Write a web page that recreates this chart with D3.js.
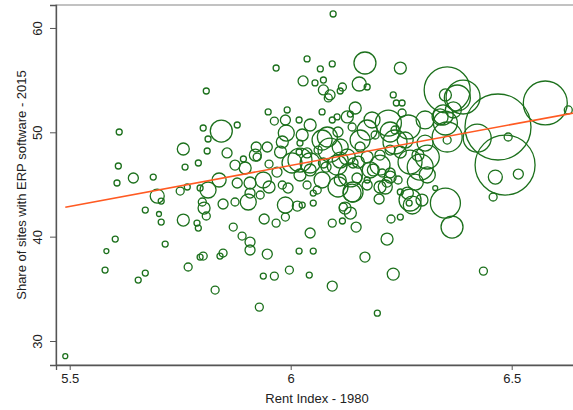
<!DOCTYPE html>
<html><head><meta charset="utf-8">
<script src="https://cdn.jsdelivr.net/npm/d3@7/dist/d3.min.js"></script>
<style>body{margin:0;background:#fff}svg{display:block}</style>
</head><body>
<svg id="c" width="573" height="410"></svg>
<script>
const rentIndex = [5.490,5.612,5.610,5.644,5.607,5.689,5.757,5.761,5.791,5.750,5.795,5.698,5.707,5.671,5.702,5.707,5.757,5.788,5.603,5.716,5.583,5.580,5.671,5.655,5.768,5.795,
5.809,5.843,5.879,5.802,5.813,5.811,5.856,5.949,5.992,5.963,6.019,6.028,5.990,5.981,5.922,5.947,5.920,5.893,5.897,5.951,6.003,6.019,6.026,5.838,5.813,5.879,5.908,5.938,5.951,5.981,5.994,5.908,5.931,5.766,
6.096,5.967,6.037,6.094,6.067,6.168,6.055,6.074,6.074,6.089,6.085,6.117,6.112,6.155,6.173,6.232,6.248,6.239,6.252,6.071,6.146,6.135,6.021,6.037,6.062,6.071,6.083,6.107,6.094,6.105,6.128,6.139,6.173,6.191,6.221,6.236,6.112,6.128,6.157,6.173,6.202,6.225,6.044,6.080,6.105,6.141,6.187,6.207,5.924,5.969,6.112,6.150,6.173,6.214,6.141,6.060,6.037,
5.800,5.804,5.809,5.791,5.847,5.874,5.904,5.988,6.015,5.988,5.967,5.940,5.870,5.890,5.908,5.908,5.947,6.019,5.847,5.840,5.802,5.997,5.938,5.963,5.829,5.929,
6.196,6.094,6.042,6.232,6.168,6.218,6.148,6.117,6.094,6.051,6.227,6.248,6.107,6.139,6.123,6.135,6.119,6.051,6.051,6.026,6.200,6.270,6.044,6.044,6.074,6.112,6.153,6.180,6.218,6.202,6.243,6.248,6.270,6.288,6.225,6.173,
6.436,6.365,6.350,6.275,6.268,6.354,6.576,6.469,6.485,6.422,6.492,6.463,6.515,6.458,6.327,6.628,6.390,6.377,6.350,6.345,6.350,6.354,6.354,6.304,6.304,6.309,6.309,6.297,6.338,6.368,6.252,6.225,6.266,6.293,6.248,6.225,6.264,
6.021,6.089,6.157,6.236,6.184,6.044,5.977,6.135,6.202,6.021,6.071,6.259,6.282,5.988,5.874];

const erpShare = [28.55,50.03,46.77,45.62,45.14,45.71,48.40,46.67,47.06,44.37,44.66,43.89,43.41,42.55,42.17,41.40,41.59,41.30,39.77,39.29,38.62,36.80,36.51,35.84,37.09,38.04,
53.96,50.12,50.70,50.41,49.36,48.21,48.02,51.95,52.14,51.08,51.18,54.92,49.93,49.07,48.59,48.59,47.82,47.44,46.58,46.96,47.06,48.11,49.74,45.43,44.47,45.14,45.14,45.43,44.76,44.95,44.66,44.18,43.99,44.76,
61.34,56.16,57.03,56.55,56.07,56.64,54.73,55.01,54.06,53.58,53.29,54.34,53.96,54.63,54.34,53.58,56.16,52.81,52.81,51.95,52.33,51.75,48.97,48.02,48.30,49.26,49.55,50.03,51.18,51.47,51.47,50.51,50.22,49.74,50.89,50.22,48.59,47.63,48.59,47.63,47.82,48.30,47.06,46.67,46.86,47.06,46.39,46.10,47.63,46.19,45.43,45.62,44.95,44.76,44.28,44.47,44.95,
43.32,42.74,41.98,40.82,43.13,43.32,43.32,43.03,42.93,41.88,41.30,41.69,40.92,40.06,39.48,38.72,38.33,38.62,38.43,38.14,38.14,36.80,36.22,36.22,34.88,33.25,
32.67,35.26,36.32,36.41,38.04,39.77,40.92,41.50,41.30,38.62,41.69,41.88,44.76,44.18,42.74,42.26,42.84,44.18,43.22,43.03,43.61,43.51,40.35,46.39,47.06,47.34,47.15,46.39,45.23,44.76,45.43,44.28,47.15,47.82,46.10,45.43,
36.70,40.92,43.22,43.03,43.22,54.06,52.81,50.51,46.86,49.45,49.55,45.71,46.00,43.80,44.66,52.14,53.38,53.29,53.58,51.66,50.89,49.26,49.55,51.18,48.97,47.63,45.91,43.51,51.47,52.14,51.85,50.03,50.51,46.67,48.11,45.71,44.18,
47.34,48.30,49.26,49.07,51.18,50.70,48.11,45.91,46.86,45.91,45.43,49.26,45.23,51.18,46.86];

const siteWeight = [0.57,0.83,0.83,2.3,0.83,0.83,3.3,0.83,0.83,1.47,0.83,4.5,0.83,0.83,0.57,0.83,3.3,0.83,0.83,0.83,0.57,0.83,0.83,0.83,1.47,0.83,
0.83,11.1,0.83,0.83,0.83,0.83,2.3,0.83,0.83,1.47,0.83,2.3,5.9,3.3,2.3,2.3,3.3,0.83,3.3,1.47,9.2,0.83,3.3,4.5,5.9,2.3,3.3,5.9,3.3,1.47,2.3,2.3,1.47,0.83,
0.83,0.83,0.83,0.83,0.83,11.1,0.83,0.83,2.3,2.3,1.47,1.47,0.83,4.5,0.83,0.83,3.3,0.83,0.83,0.83,3.3,0.83,0.83,2.3,1.47,9.2,9.2,2.3,0.83,0.83,3.3,1.47,9.2,1.47,15.5,1.47,5.9,5.9,2.3,3.3,2.3,2.3,9.2,2.3,9.2,2.3,3.3,1.47,1.47,2.3,3.3,2.3,2.3,4.5,9.2,1.47,1.47,
1.47,3.3,1.47,0.83,2.3,1.47,5.9,5.9,2.3,1.47,1.47,2.3,1.47,1.47,2.3,2.3,2.3,0.83,1.47,0.83,1.47,1.47,0.83,1.47,1.47,1.47,
0.83,2.3,0.83,3.3,2.3,3.3,2.3,0.83,1.47,0.83,1.47,0.83,9.2,7.4,3.3,3.3,1.47,0.83,0.83,0.83,2.3,11.1,2.3,3.3,2.3,5.9,3.3,5.9,2.3,3.3,1.47,0.83,13.2,3.3,2.3,0.83,
1.47,11.1,20.7,7.4,0.83,48.6,44.4,100,82.6,18,1.47,4.5,2.3,1.47,0.57,1.47,26.5,15.5,3.3,9.2,13.2,1.47,20.7,7.4,5.9,13.2,5.9,3.3,5.9,5.9,1.47,9.2,13.2,15.5,3.3,3.3,3.3,
13.2,13.2,9.2,13.2,5.9,3.3,3.3,13.2,9.2,3.3,5.9,5.9,5.9,2.3,2.3];

const xTicks = [5.5, 6, 6.5];
const yTicks = [30, 40, 50, 60];
const xTickLabels = ["5.5", "6", "6.5"];
const yTickLabels = ["30", "40", "50", "60"];
const fitIntercept = -0.34, fitSlope = 7.86;
const xTitle = "Rent Index - 1980";
const yTitle = "Share of sites with ERP software - 2015";

const L = 56, R = 578, T = 5, B = 365;
const svg = d3.select("#c");
const x = d3.scaleLinear().domain([5.469, 6.650]).range([L, R]);
const y = d3.scaleLinear().domain([27.7, 62.2]).range([B, T]);
const r = d3.scaleSqrt().domain([0, 100]).range([0, 33]);
const font = "Liberation Sans, Arial, sans-serif";

svg.append("rect").attr("x", L).attr("y", T).attr("width", R - L).attr("height", B - T)
  .attr("fill", "none").attr("stroke", "#9a9a9a").attr("stroke-width", 1.2);

const data = rentIndex.map((v, i) => ({x: v, y: erpShare[i], w: siteWeight[i]}));
svg.append("g").selectAll("circle").data(data).join("circle")
  .attr("cx", d => x(d.x)).attr("cy", d => y(d.y)).attr("r", d => r(d.w))
  .attr("fill", "none").attr("stroke", "#1c701c").attr("stroke-width", 1.3);

const xmin = d3.min(rentIndex);
svg.append("line")
  .attr("x1", x(xmin)).attr("y1", y(fitIntercept + fitSlope * xmin))
  .attr("x2", x(6.66)).attr("y2", y(fitIntercept + fitSlope * 6.66))
  .attr("stroke", "#ff5a22").attr("stroke-width", 1.6);

const xa = svg.append("g").attr("transform", `translate(0,${B})`)
  .call(d3.axisBottom(x).tickValues(xTicks).tickFormat((d, i) => xTickLabels[i]).tickSize(5).tickPadding(4));
const ya = svg.append("g").attr("transform", `translate(${L},0)`)
  .call(d3.axisLeft(y).tickValues(yTicks).tickFormat((d, i) => yTickLabels[i]).tickSize(6).tickPadding(3));
[xa, ya].forEach(a => {
  a.select(".domain").attr("stroke", "#555").attr("stroke-width", 1.3);
  a.selectAll(".tick line").attr("stroke", "#555");
  a.selectAll("text").attr("font-family", font).attr("font-size", 13).attr("fill", "#222");
});
ya.selectAll(".tick text").attr("x", null).attr("dy", null)
  .attr("text-anchor", "middle")
  .attr("transform", "translate(-14,0) rotate(-90)");

svg.append("text").attr("x", (L + R) / 2).attr("y", 403).attr("text-anchor", "middle")
  .attr("font-family", font).attr("font-size", 13).attr("fill", "#222").text(xTitle);
svg.append("text").attr("transform", `translate(26,${(T + B) / 2}) rotate(-90)`).attr("text-anchor", "middle")
  .attr("font-family", font).attr("font-size", 13).attr("fill", "#222").text(yTitle);
</script>
</body></html>
